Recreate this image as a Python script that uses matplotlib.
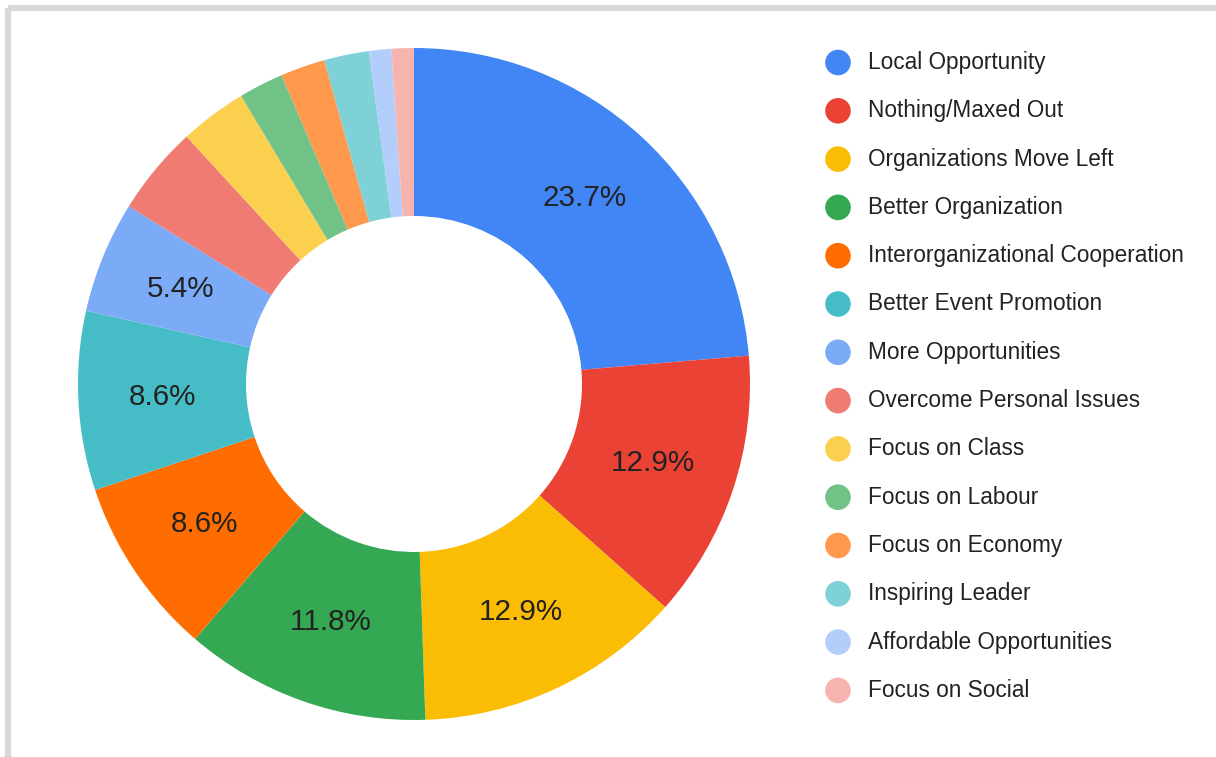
import matplotlib.pyplot as plt
from matplotlib.patches import Rectangle

# Survey answers (counts out of 93 responses)
categories = [
    'Local Opportunity', 'Nothing/Maxed Out', 'Organizations Move Left',
    'Better Organization', 'Interorganizational Cooperation',
    'Better Event Promotion', 'More Opportunities', 'Overcome Personal Issues',
    'Focus on Class', 'Focus on Labour', 'Focus on Economy',
    'Inspiring Leader', 'Affordable Opportunities', 'Focus on Social',
]
counts = [22, 12, 12, 11, 8, 8, 5, 4, 3, 2, 2, 2, 1, 1]
colors = [
    '#4285F4', '#EA4335', '#FBBC04', '#34A853', '#FF6D01', '#46BDC6',
    '#7BAAF7', '#F07B72', '#FCD04F', '#71C287', '#FF994D', '#7ED1D7',
    '#B3CEFB', '#F7B4AE',
]

plt.rcParams['font.family'] = ['Liberation Sans', 'DejaVu Sans']

W, H = 1216, 757
fig = plt.figure(figsize=(W / 100, H / 100), dpi=100)

# Donut: centre at (414, 384) px, radius 336 px
cx, cy, r = 414, 384, 336
ax = fig.add_axes([(cx - r) / W, (H - cy - r) / H, 2 * r / W, 2 * r / H])


def label_fmt(pct):
    return f'{pct:.1f}%' if pct >= 5 else ''


wedges, texts, autotexts = ax.pie(
    counts, colors=colors, startangle=90, counterclock=False,
    autopct=label_fmt, pctdistance=0.75,
    wedgeprops=dict(width=0.5, linewidth=0),
    textprops=dict(fontsize=21.3, color='#222222'),
)
ax.set_xlim(-1, 1)
ax.set_ylim(-1, 1)
ax.set_aspect('equal')
ax.axis('off')

# Overlay axes in pixel coordinates for the legend and frame
lax = fig.add_axes([0, 0, 1, 1], zorder=-1)
lax.set_xlim(0, W)
lax.set_ylim(H, 0)
lax.axis('off')

lax.add_patch(Rectangle((8, 8), 1400, 1000, fill=False,
                        edgecolor='#d9d9d9', linewidth=4.5))

y0, step = 62.5, 48.3
for i, (name, col) in enumerate(zip(categories, colors)):
    y = y0 + i * step
    lax.scatter(838, y, s=340, color=col, edgecolors='none')
    lax.text(868, y, name, fontsize=16.3, color='#222222', va='center', ha='left')

fig.savefig('out.png', dpi=100)
